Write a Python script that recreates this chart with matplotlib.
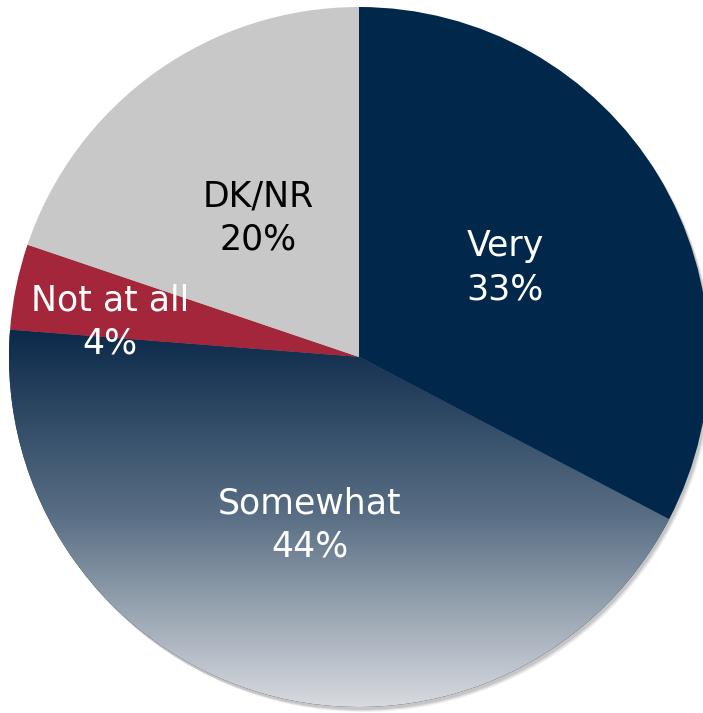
import matplotlib.pyplot as plt
import numpy as np
from matplotlib.colors import LinearSegmentedColormap
from matplotlib.patches import Circle

labels = ["Very", "Somewhat", "Not at all", "DK/NR"]
values = [33, 44, 4, 20]
colors = ["#01274a", "#0b2a4e", "#a3263a", "#c8c8c8"]
text_colors = ["white", "white", "white", "black"]

W, H = 703, 713
cx, cy, r = 359, H - 357, 350

fig = plt.figure(figsize=(W / 100, H / 100), dpi=100)
ax = fig.add_axes([0, 0, 1, 1])

# soft shadow behind the pie
for i, a in enumerate([0.10, 0.08, 0.06]):
    ax.add_patch(Circle((cx + 2 + i, cy - 3 - i), r, color="black", alpha=a, lw=0, zorder=0))

wedges, _ = ax.pie(values, colors=colors, startangle=90, counterclock=False,
                   center=(cx, cy), radius=r, frame=True,
                   wedgeprops=dict(linewidth=0))

# vertical gradient on the "Somewhat" slice
grad = LinearSegmentedColormap.from_list("g", ["#0a2849", "#5a6f85", "#d8dbdf"])
y0 = cy - r
y1 = cy + 30
img = ax.imshow(np.linspace(0, 1, 256).reshape(-1, 1), cmap=grad, aspect="auto",
                extent=[cx - r, cx + r, y0, y1], origin="upper", zorder=2)
img.set_clip_path(wedges[1])
wedges[1].set_zorder(1)

label_pos = [(505, 268), (310, 525), (110, 322), (258, 218)]
for lab, v, (x, y), c in zip(labels, values, label_pos, text_colors):
    ax.text(x, H - y, f"{lab}\n{v}%", ha="center", va="center", fontsize=25,
            color=c, linespacing=1.35, zorder=5)

ax.set_xlim(0, W)
ax.set_ylim(0, H)
ax.set_aspect("equal")
ax.axis("off")
fig.savefig("out.png", dpi=100)
